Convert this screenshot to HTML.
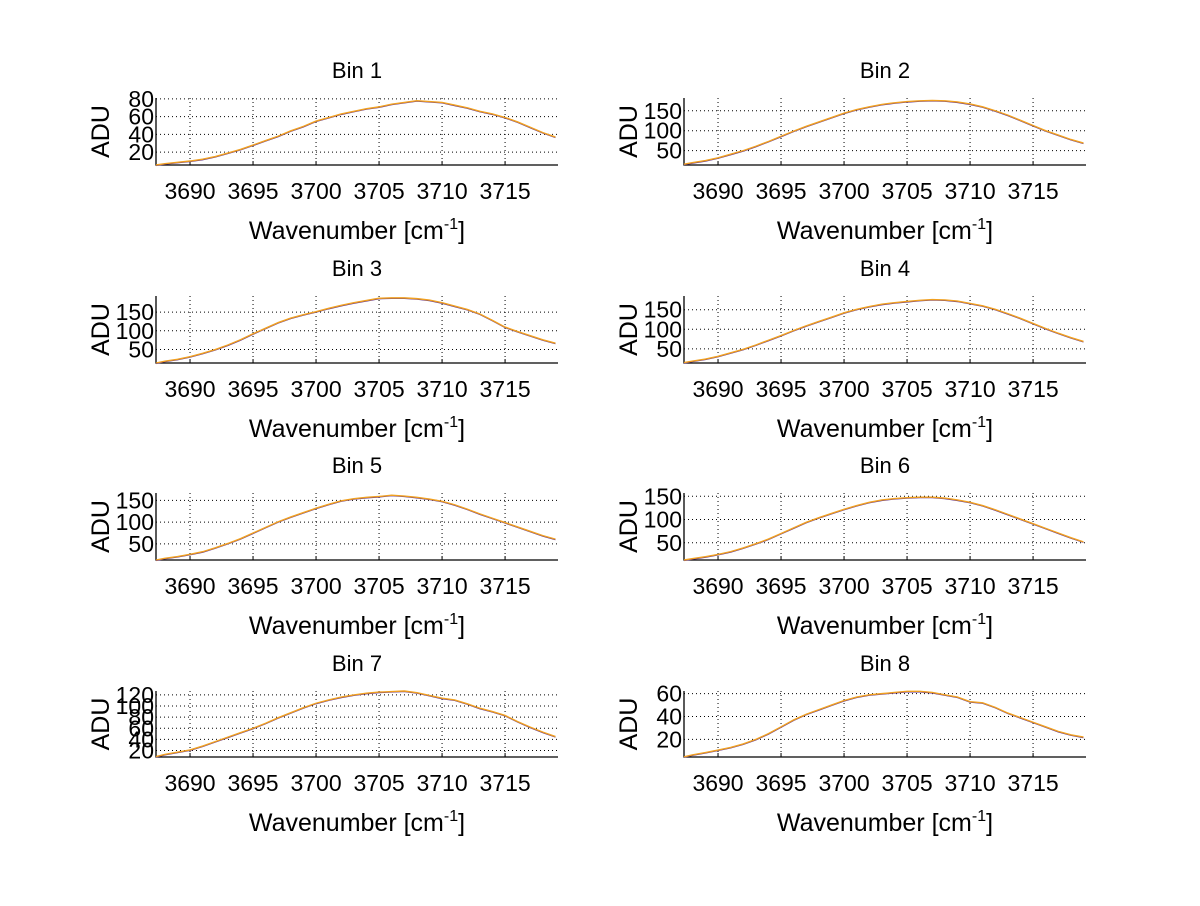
<!DOCTYPE html>
<html><head><meta charset="utf-8"><style>
html,body{margin:0;padding:0;background:#fff;}
svg text{font-family:"Liberation Sans",sans-serif;fill:#000;}
</style></head><body>
<svg id="fig" width="1200" height="901" viewBox="0 0 1200 901" xmlns="http://www.w3.org/2000/svg"></svg>
<script>
const wavenumbers=[3687,3688,3689,3690,3691,3692,3693,3694,3695,3696,3697,3698,3699,3700,3701,3702,3703,3704,3705,3706,3707,3708,3709,3710,3711,3712,3713,3714,3715,3716,3717,3718,3719];
const xTicks=[3690,3695,3700,3705,3710,3715];
const bin1=[5.5,7,8.5,10,12,15,19,23,28,33,38,44,49,55,59,63,66,69,71,74,76,78,77,76,73,70,66,63,59,54,48,42,37];
const bin2=[16,20,25,32,41,50,61,73,86,99,111,122,133,144,153,160,166,170,173,175,176,175,172,167,160,150,139,126,113,100,89,78,69];
const bin3=[14,19,24,31,40,50,62,76,92,107,122,134,143,151,160,168,175,181,187,188,188,186,182,175,166,157,145,128,110,98,87,76,67];
const bin4=[15,19,24,31,40,49,60,72,84,97,109,120,131,142,151,158,164,168,171,174,176,175,172,166,160,151,140,128,115,102,90,79,69];
const bin5=[13,17,21,26,32,41,51,62,75,88,101,112,122,132,141,149,154,157,159,162,160,157,153,148,140,130,119,109,99,89,79,69,61];
const bin6=[13,16,20,25,31,39,48,58,70,82,94,104,113,122,130,137,142,145,147,148,148,146,142,137,130,121,111,101,91,81,71,61,52];
const bin7=[9,13,17,21,28,36,44,52,60,69,79,88,97,105,111,116,120,123,125,126,127,124,119,114,111,104,96,90,83,72,62,53,45];
const bin8=[4.8,6.5,8.5,10.7,13,16,20,25,31,37,42,46,50,54,57,59,60,61,62,62,61,59,57,53,52,48,43,39,35,31,27,24,22];
const yTicks1=[20,40,60,80],yTicks2=[50,100,150],yTicks3=[50,100,150],yTicks4=[50,100,150];
const yTicks5=[50,100,150],yTicks6=[50,100,150],yTicks7=[20,40,60,80,100,120],yTicks8=[20,40,60];
const yLims=[[5.5,81],[14,182],[14,193],[14,185],[13,167],[13,157],[8.3,127],[4.6,62.3]];
const series=[bin1,bin2,bin3,bin4,bin5,bin6,bin7,bin8];
const yTickSets=[yTicks1,yTicks2,yTicks3,yTicks4,yTicks5,yTicks6,yTicks7,yTicks8];
const xMin=3687.3,xMax=3719.2;
const NS="http://www.w3.org/2000/svg";
const svg=document.getElementById('fig');
function mk(t,a,p){const e=document.createElementNS(NS,t);for(const k in a)e.setAttribute(k,a[k]);(p||svg).appendChild(e);return e;}
const lefts=[156,684],rights=[558,1086],tops=[98,296,493,691],bottoms=[165,363,560,757];
for(let i=0;i<8;i++){
  const col=i%2,row=Math.floor(i/2);
  const L=lefts[col],R=rights[col],T=tops[row],B=bottoms[row];
  const [y0,y1]=yLims[i];
  const sx=v=>L+(v-xMin)/(xMax-xMin)*(R-L);
  const sy=v=>B-(v-y0)/(y1-y0)*(B-T);
  const g=mk('g',{});
  
  
  xTicks.forEach(v=>{const l=mk('line',{x1:sx(v),x2:sx(v),y1:T,y2:B,stroke:'#000','stroke-width':1,'stroke-dasharray':'1,3'},g);
    
    const tk=mk('line',{x1:sx(v),x2:sx(v),y1:B,y2:B-4,stroke:'#000','stroke-width':1},g);
    
    const t=mk('text',{x:sx(v),y:B+34,'font-size':23,'text-anchor':'middle'},g);t.textContent=v;
    });
  yTickSets[i].forEach(v=>{const l=mk('line',{x1:L,x2:R,y1:sy(v),y2:sy(v),stroke:'#000','stroke-width':1,'stroke-dasharray':'1,3'},g);
    
    const t=mk('text',{x:L-2,y:sy(v)+8,'font-size':23,'text-anchor':'end'},g);t.textContent=v;
    });
  const ax=mk('path',{d:`M${L},${T}V${B}H${R}`,fill:'none',stroke:'#000','stroke-width':1.3},g);
  
  const data=series[i];
  const pts=wavenumbers.map((w,j)=>[Math.max(L,Math.min(R,sx(w))),sy(data[j])]);
  const pb=mk('polyline',{points:pts.map(p=>p[0]+','+(p[1]+0.6)).join(' '),fill:'none',stroke:'#5a2a8a','stroke-width':1},g);
  
  const pl=mk('polyline',{points:pts.map(p=>p.join(',')).join(' '),fill:'none',stroke:'#f0a020','stroke-width':1.4},g);
  
  const ti=mk('text',{x:(L+R)/2,y:T-20,'font-size':22,'text-anchor':'middle'},g);ti.textContent='Bin '+(i+1);
  
  const xl=mk('text',{x:(L+R)/2,y:B+74,'font-size':25,'text-anchor':'middle'},g);
  xl.innerHTML='Wavenumber [cm<tspan dy="-10" font-size="16">-1</tspan><tspan dy="10">]</tspan>';
  
  const yl=mk('text',{x:0,y:0,'font-size':25,'text-anchor':'middle',transform:`translate(${L-47},${(T+B)/2}) rotate(-90)`},g);yl.textContent='ADU';
  
}
</script>
</body></html>
